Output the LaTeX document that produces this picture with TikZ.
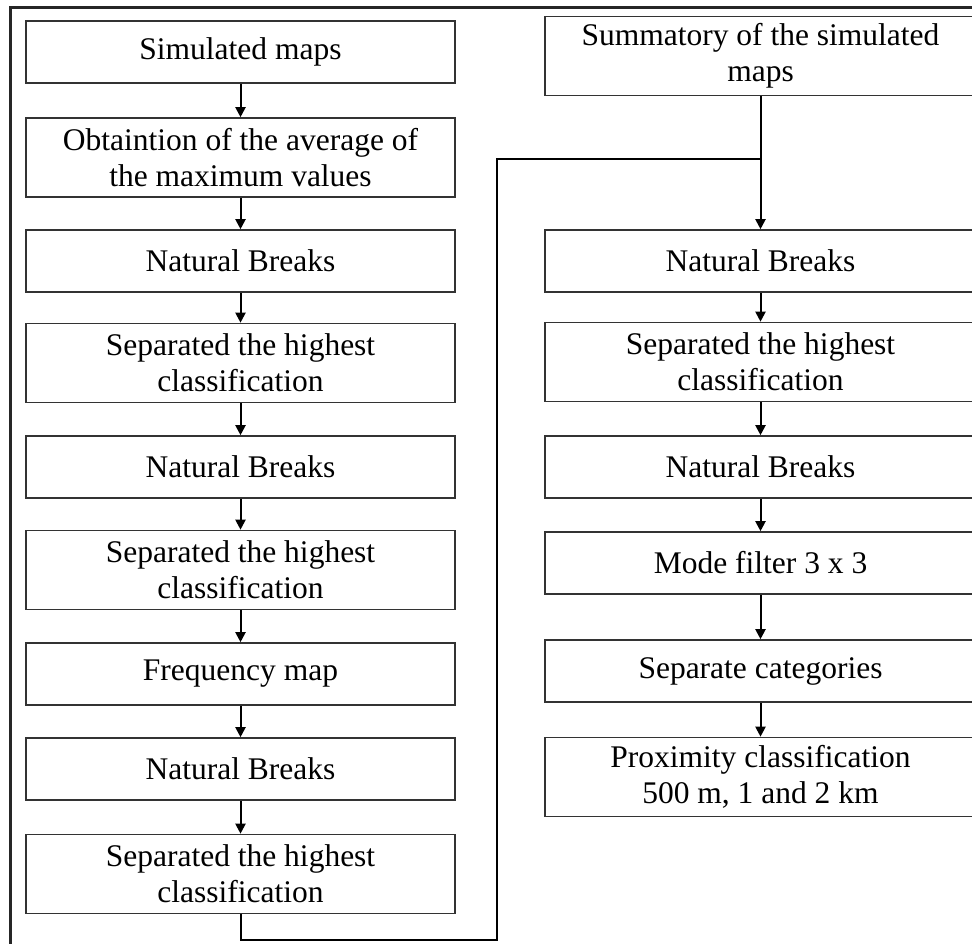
\documentclass[tikz,border=0pt]{standalone}
\usepackage{fontspec}
\setmainfont{Liberation Serif}
\usetikzlibrary{arrows.meta}

\begin{document}
\begin{tikzpicture}[x=1pt,y=-1pt,
    stepbox/.style={draw=black!80,line width=1.6pt,rectangle,inner sep=0pt,
      align=center,font=\fontsize{31.5}{36}\selectfont},
    lbox/.style={stepbox,minimum width=429pt},
    rbox/.style={stepbox,minimum width=431pt},
    one/.style={minimum height=62pt},
    two/.style={minimum height=79pt},
    arr/.style={line width=2pt,-{Triangle[length=10pt,width=10pt]}},
    link/.style={line width=2pt}]
        \useasboundingbox (0,0) rectangle (972,944);
        \clip (0,0) rectangle (972,944);
        % outer frame, cut by the page
        \draw[line width=3pt,black!85] (10,8) rectangle (1000,990);

        % left column
        \node[lbox,one] (l1) at (240.5,52)  {Simulated maps};
        \node[lbox,two] (l2) at (240.5,157.5) {Obtaintion of the average of\\the maximum values};
        \node[lbox,one] (l3) at (240.5,261) {Natural Breaks};
        \node[lbox,two] (l4) at (240.5,363) {Separated the highest\\classification};
        \node[lbox,one] (l5) at (240.5,467) {Natural Breaks};
        \node[lbox,two] (l6) at (240.5,570) {Separated the highest\\classification};
        \node[lbox,one] (l7) at (240.5,674) {Frequency map};
        \node[lbox,one] (l8) at (240.5,769) {Natural Breaks};
        \node[lbox,two] (l9) at (240.5,874) {Separated the highest\\classification};

        % right column
        \node[rbox,two] (r1) at (760.5,56)  {Summatory of the simulated\\maps};
        \node[rbox,one] (r2) at (760.5,261) {Natural Breaks};
        \node[rbox,two] (r3) at (760.5,362) {Separated the highest\\classification};
        \node[rbox,one] (r4) at (760.5,467) {Natural Breaks};
        \node[rbox,one] (r5) at (760.5,563) {Mode filter 3 x 3};
        \node[rbox,one] (r6) at (760.5,671) {Separate categories};
        \node[rbox,two] (r7) at (760.5,777) {Proximity classification\\500 m, 1 and 2 km};

        \foreach \a/\b in {l1/l2,l2/l3,l3/l4,l4/l5,l5/l6,l6/l7,l7/l8,l8/l9,
                           r1/r2,r2/r3,r3/r4,r4/r5,r5/r6,r6/r7}
          \draw[arr] (\a) -- (\b);

        % loop back from the left column to the right one
        \coordinate (turn) at (497,940);
        \coordinate (join) at (760.5,159);
        \draw[link] (l9.south) |- (turn) |- (join);
\end{tikzpicture}
\end{document}
